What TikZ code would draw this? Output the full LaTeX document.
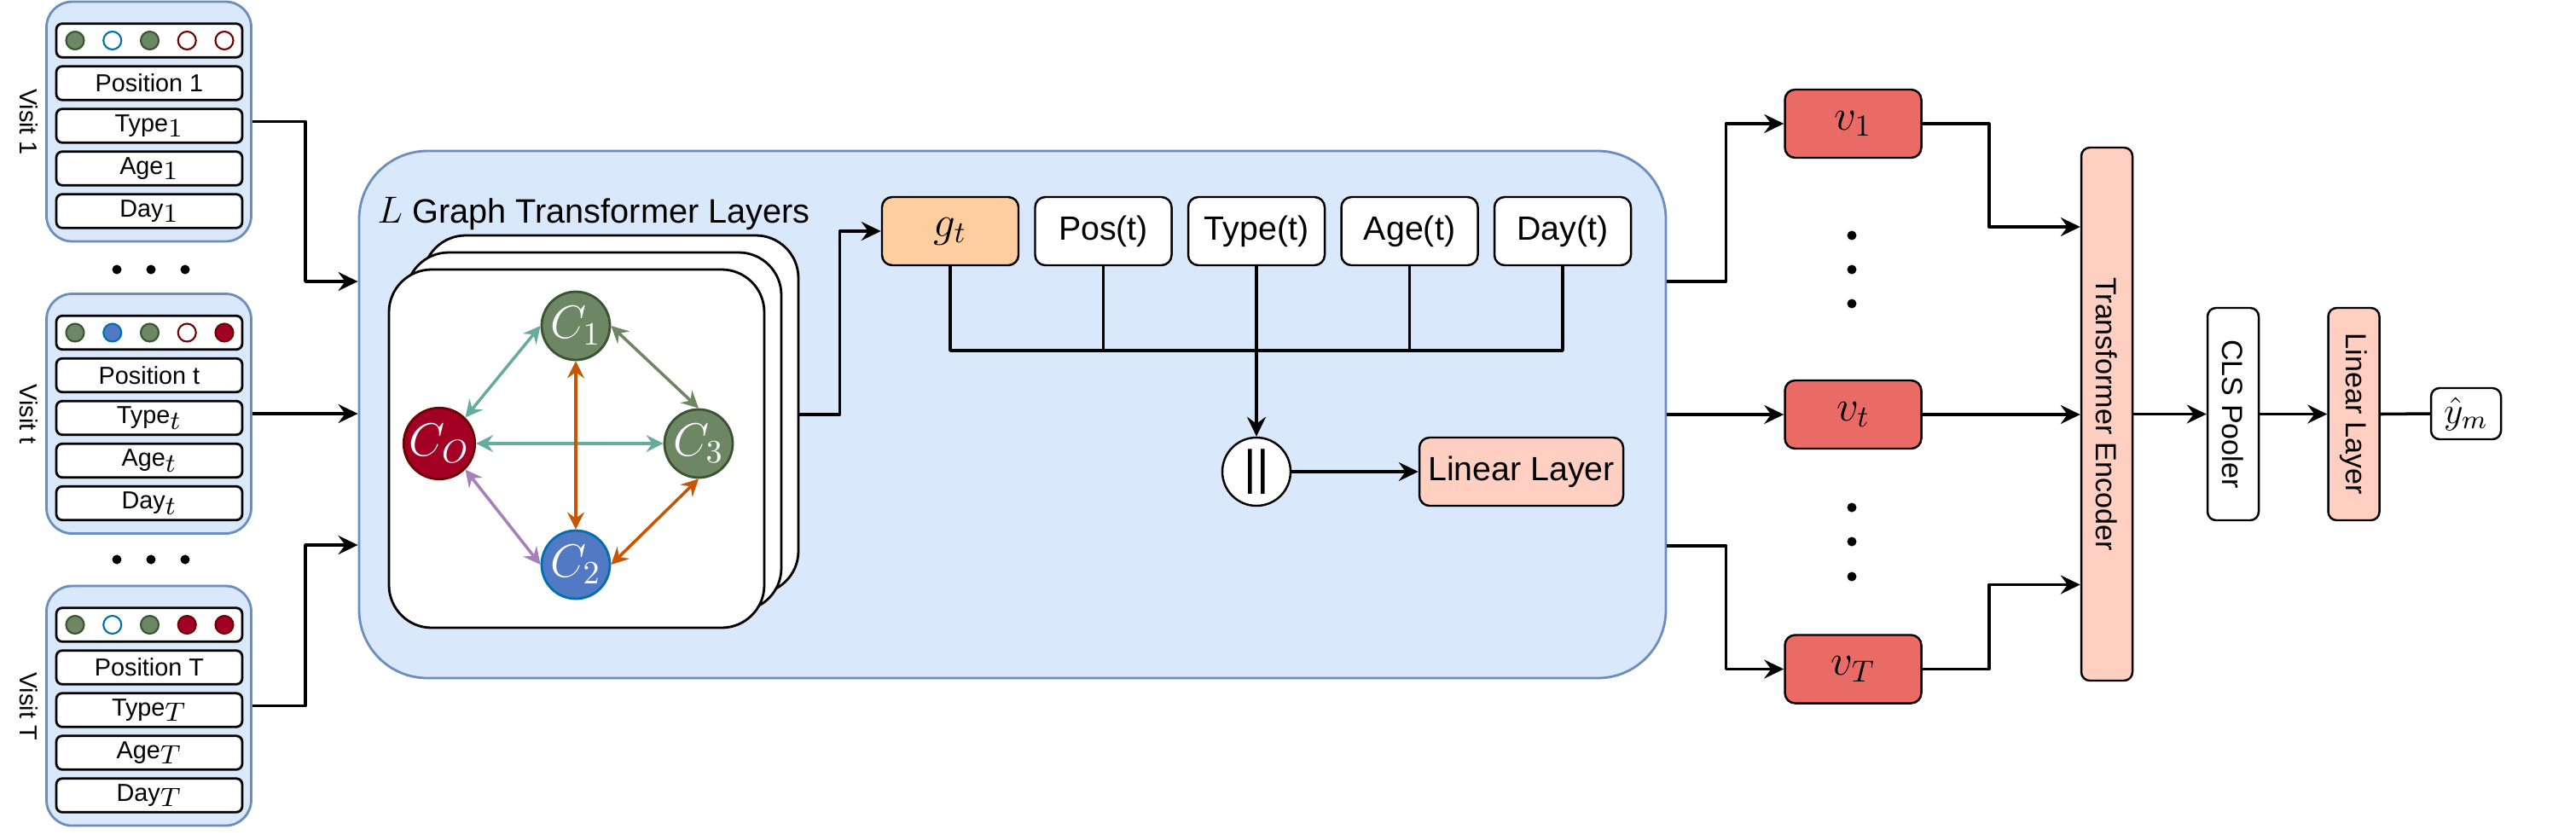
\RequirePackage{fix-cm}
\documentclass[tikz,border=0pt]{standalone}
\usepackage[no-math]{fontspec}
\setmainfont{Liberation Sans}
\usepackage{graphicx}
\usetikzlibrary{arrows.meta}

\definecolor{visitfill}{HTML}{DAE8FC}
\definecolor{visitline}{HTML}{6C8EBF}
\definecolor{cgreen}{HTML}{6D8764}
\definecolor{cgreenline}{HTML}{3A5431}
\definecolor{cred}{HTML}{A20025}
\definecolor{credline}{HTML}{6F0000}
\definecolor{cblue}{HTML}{5279C4}
\definecolor{cblueline}{HTML}{006EAF}
\definecolor{cteal}{HTML}{67AB9F}
\definecolor{corange}{HTML}{C95500}
\definecolor{cpurple}{HTML}{A680B8}
\definecolor{peach}{HTML}{FFCE9F}
\definecolor{salmon}{HTML}{FFD0C2}
\definecolor{vred}{HTML}{EA6B66}

\newcommand\mathbig{\fontsize{12.6}{13}\selectfont}

\begin{document}
\begin{tikzpicture}[x=1cm, y=-1cm, line join=round,
    every node/.style={font=\fontsize{8.2}{9}\selectfont, inner sep=0pt},
    visitbox/.style={draw=visitline, fill=visitfill, line width=0.8pt, rounded corners=0.3cm, minimum width=2.40cm, minimum height=2.81cm},
    row/.style={draw, fill=white, line width=0.8pt, rounded corners=0.07cm, minimum width=2.18cm, minimum height=0.395cm},
    dot/.style={circle, minimum size=0.21cm, line width=0.6pt},
    gfull/.style={fill=cgreen, draw=cgreenline},
    bempty/.style={fill=white, draw=cblueline},
    bfull/.style={fill=cblue, draw=cblueline},
    rempty/.style={fill=white, draw=credline},
    rfull/.style={fill=cred, draw=credline},
    bigbox/.style={draw=visitline, fill=visitfill, line width=0.8pt, rounded corners=0.8cm, minimum width=15.32cm, minimum height=6.18cm},
    card/.style={draw, fill=white, line width=0.8pt, rounded corners=0.5cm, minimum width=4.40cm, minimum height=4.20cm},
    gnode/.style={circle, minimum size=0.80cm, line width=0.8pt, text=white, font=\fontsize{15.5}{16}\selectfont},
    gedge/.style={arrows={Stealth[length=2mm,width=2mm,inset=0.7mm]-Stealth[length=2mm,width=2mm,inset=0.7mm]}, line width=1pt},
    featbox/.style={draw, fill=white, line width=0.7pt, rounded corners=0.12cm, minimum width=1.60cm, minimum height=0.80cm, font=\fontsize{11.2}{13}\selectfont},
    vbox/.style={featbox, fill=vred, font=\fontsize{14.5}{15}\selectfont},
    tall/.style={draw, line width=0.7pt, rounded corners=0.1cm, minimum width=0.60cm, font=\fontsize{9.7}{11}\selectfont},
    arr/.style={-{Stealth[length=2.3mm,width=2.2mm,inset=0.8mm]}, line width=1pt},
    line/.style={line width=1pt}]
    \useasboundingbox (0,0) rectangle (30.20,9.78);

    % Visits
    \foreach \k/\lab/\dotlist in {0/1/{gfull,bempty,gfull,rempty,rempty}, 1/t/{gfull,bfull,gfull,rempty,rfull}, 2/T/{gfull,bempty,gfull,rfull,rfull}} {
        \pgfmathsetmacro\off{\k*3.425}
        \node[visitbox] (visit\k) at (1.745, 1.425+\off) {};
        \node[rotate=-90] (vlab\k) at (0.34, 1.43+\off) {Visit \lab};
        \node[row] (dots\k) at (1.75, 0.475+\off) {};
        \foreach \d [count=\i from 0] in \dotlist
            \node[dot, \d] (dot\k\i) at (0.88+\i*0.4375, 0.475+\off) {};
        \node[row] (pos\k) at (1.75, 0.975+\off) {Position \lab};
        \node[row] (type\k) at (1.75, 1.475+\off) {Type{\mathbig$_\lab$}};
        \node[row] (age\k) at (1.75, 1.975+\off) {Age{\mathbig$_\lab$}};
        \node[row] (day\k) at (1.75, 2.475+\off) {Day{\mathbig$_\lab$}};
    }
    \foreach \y in {3.16,6.56}
        \foreach \x in {1.37,1.77,2.17}
            \fill (\x,\y) circle (0.055);

    % Graph module
    \node[bigbox] (graph) at (11.87, 4.86) {};
    \node[anchor=west, font=\fontsize{11.3}{13}\selectfont] (title) at (4.42, 2.50) {{\mathbig$L$} Graph Transformer Layers};
    \foreach \i in {2,1,0}
        \node[card] (card\i) at (6.76+\i*0.2, 5.26-\i*0.2) {};
    \node[gnode, fill=cgreen, draw=cgreenline] (c1) at (6.75,3.82) {$C_1$};
    \node[gnode, fill=cred, draw=credline] (co) at (5.15,5.20) {$C_O$};
    \node[gnode, fill=cgreen, draw=cgreenline] (c3) at (8.19,5.20) {$C_3$};
    \node[gnode, fill=cblue, draw=cblueline] (c2) at (6.75,6.62) {$C_2$};
    \draw[gedge, cteal] (co.north east) -- (c1.west);
    \draw[gedge, cgreen] (c1.east) -- (c3.north);
    \draw[gedge, cteal] (co.east) -- (c3.west);
    \draw[gedge, corange] (c1.south) -- (c2.north);
    \draw[gedge, cpurple] (co.south east) -- (c2.west);
    \draw[gedge, corange] (c2.east) -- (c3.south);

    \draw[arr] (visit0.east) -- ++(0.62,0) |- ([yshift=1.56cm]graph.west);
    \draw[arr] (visit1.east) -- (visit1.east -| graph.west);
    \draw[arr] (visit2.east) -- ++(0.62,0) |- ([yshift=-1.53cm]graph.west);

    % Features and concatenation
    \node[featbox, fill=peach] (gt) at (11.14,2.71) {\fontsize{14.5}{15}\selectfont$g_t$};
    \foreach \n/\t [count=\i] in {pos/Pos(t), type/Type(t), age/Age(t), day/Day(t)}
        \node[featbox] (\n) at (11.14+\i*1.795, 2.71) {\t};
    \draw[arr] (card2.east) -- ++(0.47,0) |- (gt.west);
    \coordinate (bus) at (14.73,4.11);
    \draw[line] (gt.south) |- (bus) -| (day.south);
    \foreach \n in {pos,age}
        \draw[line] (\n.south) -- (\n.south |- bus);
    \node[draw, circle, fill=white, minimum size=0.80cm, line width=0.7pt, font=\fontsize{16}{16}\selectfont] (cat) at (14.73,5.53) {||};
    \draw[arr] (type.south) -- (cat.north);
    \node[featbox, fill=salmon, minimum width=2.39cm] (lin1) at (17.835,5.53) {Linear Layer};
    \draw[arr] (cat.east) -- (lin1.west);

    % Visit embeddings
    \node[vbox] (v1) at (21.725,1.45) {$v_1$};
    \node[vbox] (vt) at (21.725,4.86) {$v_t$};
    \node[vbox] (vT) at (21.725,7.845) {$v_T$};
    \foreach \y in {2.76,3.16,3.56,5.95,6.35,6.76}
        \fill (21.71,\y) circle (0.055);
    \draw[arr] ([yshift=1.56cm]graph.east) -- ++(0.69,0) |- (v1.west);
    \draw[arr] (graph.east) -- (vt.west);
    \draw[arr] ([yshift=-1.54cm]graph.east) -- ++(0.69,0) |- (vT.west);

    % Encoder and head
    \node[tall, fill=salmon, minimum height=6.25cm] (te) at (24.70,4.855) {\rotatebox{-90}{Transformer Encoder}};
    \node[tall, fill=white, minimum height=2.49cm] (cls) at (26.18,4.855) {\rotatebox{-90}{CLS Pooler}};
    \node[tall, fill=salmon, minimum height=2.49cm] (lin2) at (27.595,4.855) {\rotatebox{-90}{Linear Layer}};
    \node[featbox, minimum width=0.82cm, minimum height=0.60cm, rounded corners=0.1cm, font=\fontsize{12.5}{13}\selectfont] (yhat) at (28.91,4.85) {$\hat{y}_m$};
    \draw[arr] (v1.east) -- ++(0.78,0) |- ([yshift=2.195cm]te.west);
    \draw[arr] (vt.east) -- (vt.east -| te.west);
    \draw[arr] (vT.east) -- ++(0.78,0) |- ([yshift=-2.0cm]te.west);
    \draw[arr] (te.east) -- (cls.west);
    \draw[arr] (cls.east) -- (lin2.west);
    \draw[line] (lin2.east) -- (yhat.west);
\end{tikzpicture}
\end{document}
